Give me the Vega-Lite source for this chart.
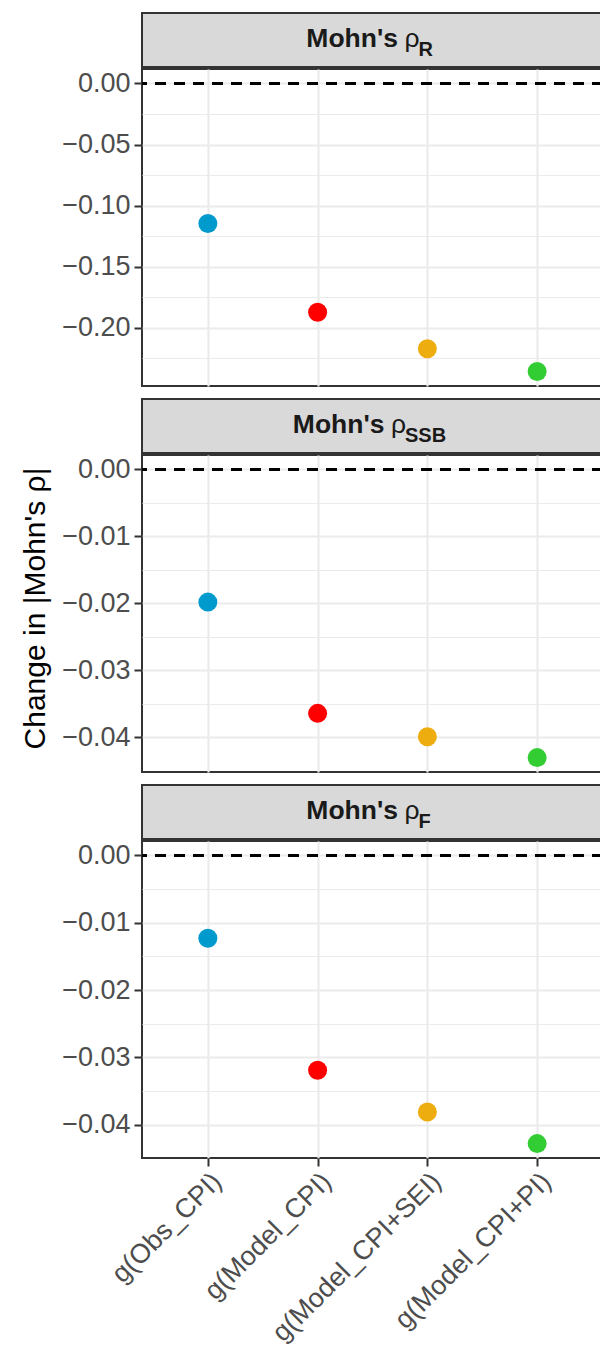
{
  "$schema": "https://vega.github.io/schema/vega-lite/v6.json",
  "padding": {"left": 19, "top": 12, "right": 0, "bottom": 0},
  "background": "white",
  "datasets": {
    "pts": [
      {"panel": "R", "model": "g(Obs_CPI)", "value": -0.1146},
      {"panel": "R", "model": "g(Model_CPI)", "value": -0.1872},
      {"panel": "R", "model": "g(Model_CPI+SEI)", "value": -0.2170},
      {"panel": "R", "model": "g(Model_CPI+PI)", "value": -0.2357},
      {"panel": "SSB", "model": "g(Obs_CPI)", "value": -0.0198},
      {"panel": "SSB", "model": "g(Model_CPI)", "value": -0.0364},
      {"panel": "SSB", "model": "g(Model_CPI+SEI)", "value": -0.0399},
      {"panel": "SSB", "model": "g(Model_CPI+PI)", "value": -0.0430},
      {"panel": "F", "model": "g(Obs_CPI)", "value": -0.0123},
      {"panel": "F", "model": "g(Model_CPI)", "value": -0.0319},
      {"panel": "F", "model": "g(Model_CPI+SEI)", "value": -0.0381},
      {"panel": "F", "model": "g(Model_CPI+PI)", "value": -0.0428}
    ],
    "strips": [
      {"panel": "R", "main": "Mohn's", "rho": "ρ", "sub": "R"},
      {"panel": "SSB", "main": "Mohn's", "rho": "ρ", "sub": "SSB"},
      {"panel": "F", "main": "Mohn's", "rho": "ρ", "sub": "F"}
    ]
  },
  "config": {
    "font": "Liberation Sans",
    "view": {"stroke": "#333333", "strokeWidth": 2},
    "concat": {"spacing": 0},
    "axis": {
      "domain": false,
      "gridColor": "#ebebeb",
      "gridWidth": 2.2,
      "tickColor": "#333333",
      "tickWidth": 2,
      "tickSize": 8,
      "labelColor": "#4d4d4d",
      "labelFontSize": 27,
      "labelPadding": 4,
      "labelLimit": 500,
      "titleColor": "#000000",
      "titleFontSize": 30,
      "titleFontWeight": "normal"
    }
  },
  "vconcat": [
    {
      "width": 461, "height": 54,
      "view": {"fill": "#d9d9d9", "stroke": "#333333", "strokeWidth": 2},
      "data": {"name": "strips"},
      "transform": [{"filter": "datum.panel === 'R'"}],
      "layer": [
        {"mark": {"type": "text", "align": "right", "baseline": "alphabetic", "dx": 25.5, "dy": 7, "fontSize": 26.5, "fontWeight": "bold", "color": "#1a1a1a"}, "encoding": {"text": {"field": "main"}}},
        {"mark": {"type": "text", "align": "left", "baseline": "alphabetic", "dx": 32, "dy": 7, "fontSize": 26.5, "color": "#1a1a1a"}, "encoding": {"text": {"field": "rho"}}},
        {"mark": {"type": "text", "align": "left", "baseline": "alphabetic", "dx": 46, "dy": 16, "fontSize": 20, "fontWeight": "bold", "color": "#1a1a1a"}, "encoding": {"text": {"field": "sub"}}}
      ]
    },
    {
      "width": 461, "height": 317,
      "data": {"name": "pts"},
      "transform": [{"filter": "datum.panel === 'R'"}],
      "encoding": {
        "x": {"field": "model", "type": "nominal", "sort": ["g(Obs_CPI)", "g(Model_CPI)", "g(Model_CPI+SEI)", "g(Model_CPI+PI)"],
              "scale": {"type": "point", "padding": 0.6},
              "axis": {"title": null, "labels": false, "ticks": false, "grid": true, "minExtent": 11, "maxExtent": 11}},
        "y": {"field": "value", "type": "quantitative",
              "scale": {"domain": [-0.2475, 0.0118], "nice": false, "zero": false},
              "axis": {"title": null, "format": ".2f",
                       "values": [0, -0.025, -0.05, -0.075, -0.1, -0.125, -0.15, -0.175, -0.2, -0.225],
                       "labelExpr": "abs(datum.value/0.05 - round(datum.value/0.05)) > 0.01 ? '' : datum.label",
                       "tickOpacity": {"condition": {"test": "abs(datum.value/0.05 - round(datum.value/0.05)) > 0.01", "value": 0}, "value": 1},
                       "gridWidth": {"condition": {"test": "abs(datum.value/0.05 - round(datum.value/0.05)) > 0.01", "value": 1.1}, "value": 2.2}}}
      },
      "layer": [
        {"mark": {"type": "rule", "color": "black", "strokeWidth": 2.5, "strokeDash": [11, 8]}, "encoding": {"y": {"datum": 0}, "x": null}},
        {"mark": {"type": "circle", "size": 360, "opacity": 1},
         "encoding": {"color": {"field": "model", "type": "nominal", "legend": null,
           "scale": {"domain": ["g(Obs_CPI)", "g(Model_CPI)", "g(Model_CPI+SEI)", "g(Model_CPI+PI)"], "range": ["#009ACD", "#FF0000", "#EEAD0E", "#32CD32"]}}}}
      ]
    },
    {
      "width": 461, "height": 54,
      "view": {"fill": "#d9d9d9", "stroke": "#333333", "strokeWidth": 2},
      "data": {"name": "strips"},
      "transform": [{"filter": "datum.panel === 'SSB'"}],
      "layer": [
        {"mark": {"type": "text", "align": "right", "baseline": "alphabetic", "dx": 12, "dy": 7, "fontSize": 26.5, "fontWeight": "bold", "color": "#1a1a1a"}, "encoding": {"text": {"field": "main"}}},
        {"mark": {"type": "text", "align": "left", "baseline": "alphabetic", "dx": 18.5, "dy": 7, "fontSize": 26.5, "color": "#1a1a1a"}, "encoding": {"text": {"field": "rho"}}},
        {"mark": {"type": "text", "align": "left", "baseline": "alphabetic", "dx": 32.5, "dy": 16, "fontSize": 20, "fontWeight": "bold", "color": "#1a1a1a"}, "encoding": {"text": {"field": "sub"}}}
      ]
    },
    {
      "width": 461, "height": 317,
      "data": {"name": "pts"},
      "transform": [{"filter": "datum.panel === 'SSB'"}],
      "encoding": {
        "x": {"field": "model", "type": "nominal", "sort": ["g(Obs_CPI)", "g(Model_CPI)", "g(Model_CPI+SEI)", "g(Model_CPI+PI)"],
              "scale": {"type": "point", "padding": 0.6},
              "axis": {"title": null, "labels": false, "ticks": false, "grid": true, "minExtent": 11, "maxExtent": 11}},
        "y": {"field": "value", "type": "quantitative",
              "scale": {"domain": [-0.04515, 0.00215], "nice": false, "zero": false},
              "axis": {"title": "Change in |Mohn's ρ|", "titlePadding": 11, "titleY": 153, "format": ".2f",
                       "values": [0, -0.005, -0.01, -0.015, -0.02, -0.025, -0.03, -0.035, -0.04],
                       "labelExpr": "abs(datum.value/0.01 - round(datum.value/0.01)) > 0.01 ? '' : datum.label",
                       "tickOpacity": {"condition": {"test": "abs(datum.value/0.01 - round(datum.value/0.01)) > 0.01", "value": 0}, "value": 1},
                       "gridWidth": {"condition": {"test": "abs(datum.value/0.01 - round(datum.value/0.01)) > 0.01", "value": 1.1}, "value": 2.2}}}
      },
      "layer": [
        {"mark": {"type": "rule", "color": "black", "strokeWidth": 2.5, "strokeDash": [11, 8]}, "encoding": {"y": {"datum": 0}, "x": null}},
        {"mark": {"type": "circle", "size": 360, "opacity": 1},
         "encoding": {"color": {"field": "model", "type": "nominal", "legend": null,
           "scale": {"domain": ["g(Obs_CPI)", "g(Model_CPI)", "g(Model_CPI+SEI)", "g(Model_CPI+PI)"], "range": ["#009ACD", "#FF0000", "#EEAD0E", "#32CD32"]}}}}
      ]
    },
    {
      "width": 461, "height": 54,
      "view": {"fill": "#d9d9d9", "stroke": "#333333", "strokeWidth": 2},
      "data": {"name": "strips"},
      "transform": [{"filter": "datum.panel === 'F'"}],
      "layer": [
        {"mark": {"type": "text", "align": "right", "baseline": "alphabetic", "dx": 25.5, "dy": 7, "fontSize": 26.5, "fontWeight": "bold", "color": "#1a1a1a"}, "encoding": {"text": {"field": "main"}}},
        {"mark": {"type": "text", "align": "left", "baseline": "alphabetic", "dx": 32, "dy": 7, "fontSize": 26.5, "color": "#1a1a1a"}, "encoding": {"text": {"field": "rho"}}},
        {"mark": {"type": "text", "align": "left", "baseline": "alphabetic", "dx": 46, "dy": 16, "fontSize": 20, "fontWeight": "bold", "color": "#1a1a1a"}, "encoding": {"text": {"field": "sub"}}}
      ]
    },
    {
      "width": 461, "height": 317,
      "data": {"name": "pts"},
      "transform": [{"filter": "datum.panel === 'F'"}],
      "encoding": {
        "x": {"field": "model", "type": "nominal", "sort": ["g(Obs_CPI)", "g(Model_CPI)", "g(Model_CPI+SEI)", "g(Model_CPI+PI)"],
              "scale": {"type": "point", "padding": 0.6},
              "axis": {"title": null, "grid": true, "labelAngle": -45, "labelAlign": "right", "labelBaseline": "top", "labelPadding": 2}},
        "y": {"field": "value", "type": "quantitative",
              "scale": {"domain": [-0.04494, 0.00214], "nice": false, "zero": false},
              "axis": {"title": null, "format": ".2f",
                       "values": [0, -0.005, -0.01, -0.015, -0.02, -0.025, -0.03, -0.035, -0.04],
                       "labelExpr": "abs(datum.value/0.01 - round(datum.value/0.01)) > 0.01 ? '' : datum.label",
                       "tickOpacity": {"condition": {"test": "abs(datum.value/0.01 - round(datum.value/0.01)) > 0.01", "value": 0}, "value": 1},
                       "gridWidth": {"condition": {"test": "abs(datum.value/0.01 - round(datum.value/0.01)) > 0.01", "value": 1.1}, "value": 2.2}}}
      },
      "layer": [
        {"mark": {"type": "rule", "color": "black", "strokeWidth": 2.5, "strokeDash": [11, 8]}, "encoding": {"y": {"datum": 0}, "x": null}},
        {"mark": {"type": "circle", "size": 360, "opacity": 1},
         "encoding": {"color": {"field": "model", "type": "nominal", "legend": null,
           "scale": {"domain": ["g(Obs_CPI)", "g(Model_CPI)", "g(Model_CPI+SEI)", "g(Model_CPI+PI)"], "range": ["#009ACD", "#FF0000", "#EEAD0E", "#32CD32"]}}}}
      ]
    }
  ]
}
